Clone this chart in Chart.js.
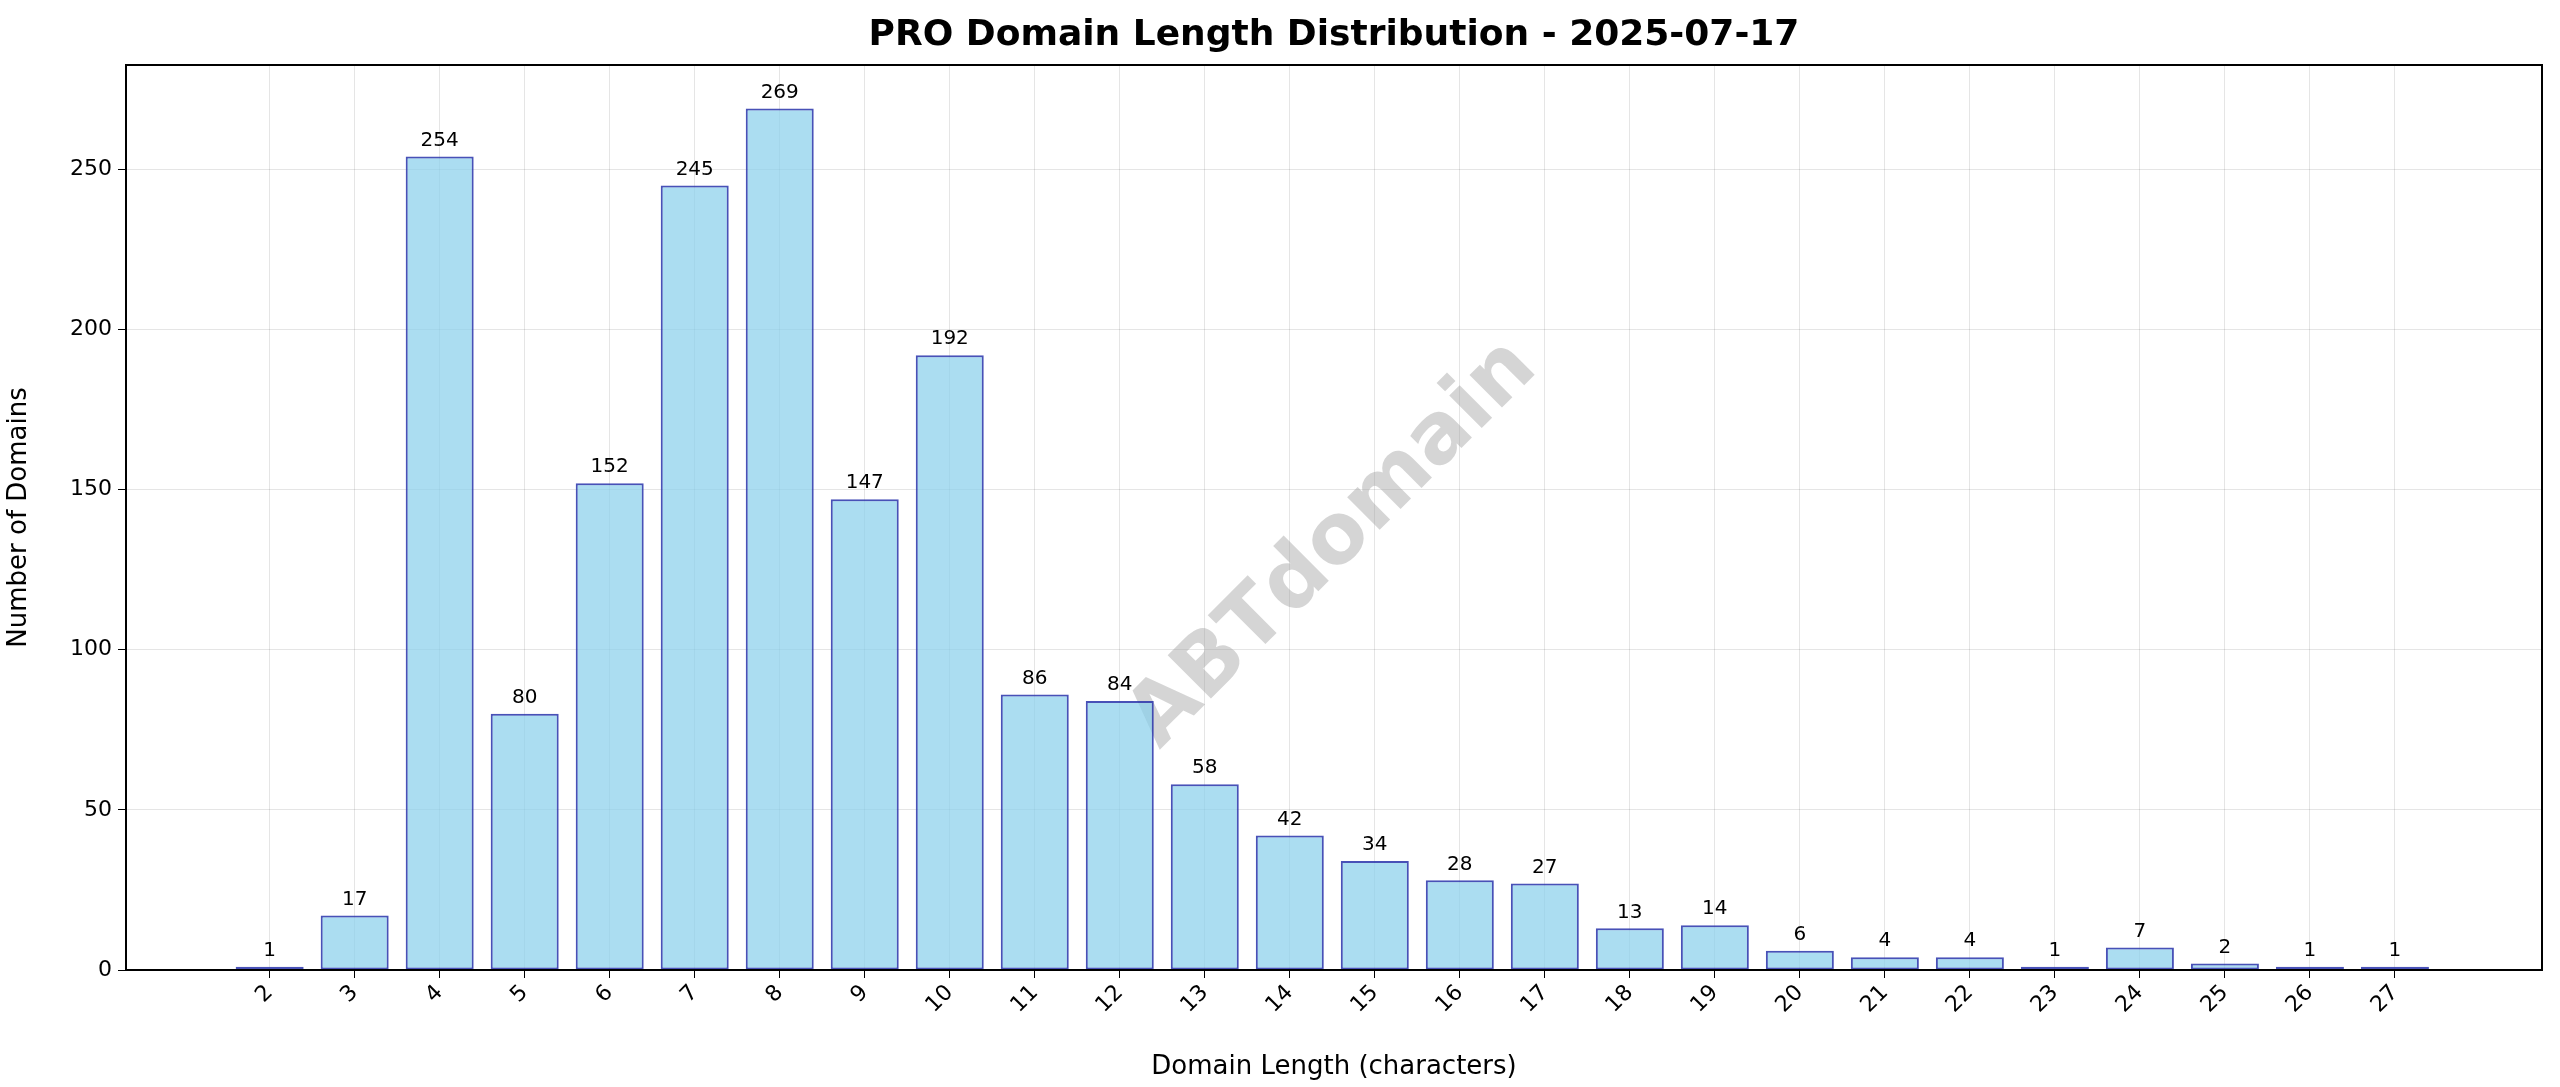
<!DOCTYPE html>
<html><head><meta charset="utf-8">
<script src="https://cdn.jsdelivr.net/npm/chart.js@4"></script>
<style>html,body{margin:0;padding:0;background:#fff;}#c{display:block;}</style>
</head><body>
<div style="width:2560px;height:1087px"><canvas id="c" width="2560" height="1087"></canvas></div>
<script>
const lengths = [2,3,4,5,6,7,8,9,10,11,12,13,14,15,16,17,18,19,20,21,22,23,24,25,26,27];
const counts = [1,17,254,80,152,245,269,147,192,86,84,58,42,34,28,27,13,14,6,4,4,1,7,2,1,1];
const chartTitle = 'PRO Domain Length Distribution - 2025-07-17';
const xTitle = 'Domain Length (characters)';
const yTitle = 'Number of Domains';
const yTicks = [0,50,100,150,200,250];
const watermark = 'ABTdomain';
const F = 'DejaVu Sans';

const extras = {
  id:'extras',
  beforeDatasetsDraw(ch){
    const c=ch.ctx, a=ch.chartArea;
    c.save();
    c.fillStyle='rgba(150,150,150,0.4)';
    c.font='bold 84px '+F;
    c.textAlign='center';c.textBaseline='middle';
    c.translate(a.left+(a.right-a.left)*0.5,a.top+(a.bottom-a.top)*0.53);
    c.rotate(-Math.PI/4);
    c.fillText(watermark,0,0);
    c.restore();
  },
  afterDatasetsDraw(ch){
    const c=ch.ctx, meta=ch.getDatasetMeta(0);
    c.save();
    c.fillStyle='#000';c.font='20px '+F;c.textAlign='center';c.textBaseline='bottom';
    meta.data.forEach((b,i)=>c.fillText(String(counts[i]),b.x,b.y-6));
    c.font='bold 36px '+F;c.textBaseline='middle';
    c.fillText(chartTitle,(ch.chartArea.left+ch.chartArea.right)/2,36);
    const a=ch.chartArea;
    c.strokeStyle='#000';c.lineWidth=2;c.strokeRect(a.left,a.top,a.right-a.left,a.bottom-a.top);
    c.restore();
  }
};

new Chart(document.getElementById('c'),{
  type:'bar',
  data:{datasets:[{
    data:lengths.map((l,i)=>({x:l,y:counts[i]})),
    backgroundColor:'rgba(135,206,235,0.7)',
    borderColor:'rgba(40,50,170,0.85)',
    borderWidth:2,borderSkipped:false,
    categoryPercentage:1,barPercentage:0.8
  }]},
  options:{
    responsive:false,animation:false,devicePixelRatio:1,
    layout:{padding:{top:65,right:18,left:0,bottom:0}},
    plugins:{legend:{display:false},tooltip:{enabled:false}},
    scales:{
      x:{type:'linear',min:0.31,max:28.73,offset:false,
        afterBuildTicks(s){s.ticks=lengths.map(v=>({value:v}));},
        afterFit(s){s.height=117;},
        grid:{offset:false,color:'rgba(0,0,0,0.1)',drawTicks:true,tickLength:8,tickColor:'#000'},
        border:{color:'#000',width:2},
        ticks:{color:'#000',font:{family:F,size:22},maxRotation:45,minRotation:45,autoSkip:false,padding:2,
          callback:v=>String(v)},
        title:{display:true,text:xTitle,color:'#000',font:{family:F,size:26},padding:{top:0}}
      },
      y:{min:0,max:282.6,
        afterBuildTicks(s){s.ticks=yTicks.map(v=>({value:v}));},
        afterFit(s){s.width=126;},
        grid:{color:'rgba(0,0,0,0.1)',tickLength:8,tickColor:'#000'},
        border:{color:'#000',width:2},
        ticks:{color:'#000',font:{family:F,size:22},padding:6},
        title:{display:true,text:yTitle,color:'#000',font:{family:F,size:26},padding:{bottom:4}}
      }
    }
  },
  plugins:[extras]
});
</script>
</body></html>
